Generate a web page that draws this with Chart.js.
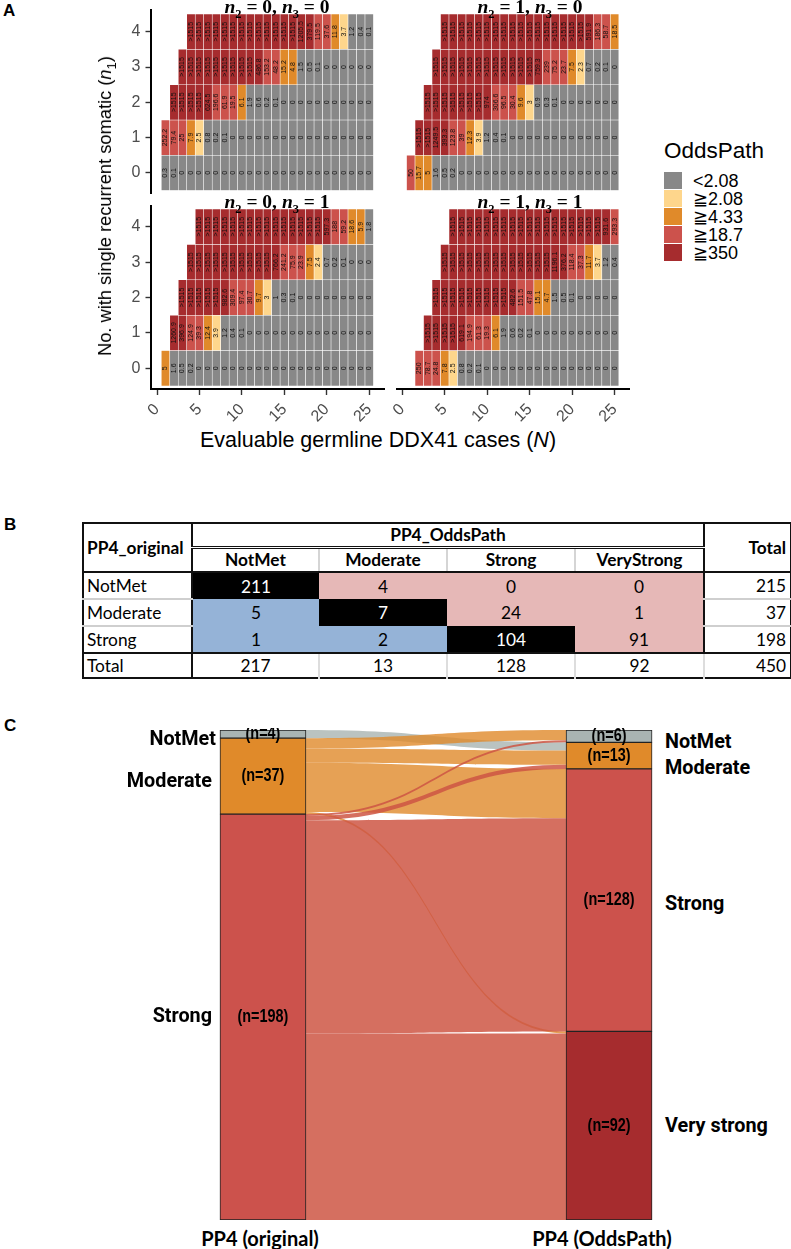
<!DOCTYPE html>
<html>
<head>
<meta charset="utf-8">
<title>PP4 OddsPath</title>
<script src="https://cdn.jsdelivr.net/npm/chart.js@4/dist/chart.umd.min.js"></script>
<style>
  html, body { margin: 0; padding: 0; background: #fff; }
  body { position: relative; width: 791px; height: 1249px; overflow: hidden; font-family: "Liberation Sans", sans-serif; color: #000; }
  canvas { position: absolute; }
  .abs { position: absolute; white-space: nowrap; }
  .letter { font-weight: 700; font-size: 17px; line-height: 17px; }
  .facet { font: 700 19.5px/19px "Liberation Serif", serif; transform: translateX(-50%); }
  .facet sub { font-size: 12.5px; line-height: 0; }
  .axis-title sub { font-size: 13px; line-height: 0; }
  .flow-label { font: 700 19.8px/22px Roboto, sans-serif; transform: translateY(-50%); }
  .pp4-label { font: 700 20px/22px Lato, sans-serif; transform: translateX(-50%); }
  #legendTitle { font-size: 22.5px; line-height: 26px; }
  .swatch { width: 18px; height: 17px; border-bottom: 1px solid #fff; }
  .legend-text { font-size: 18px; line-height: 18px; }
  #confusion { position: absolute; left: 82px; top: 522px; width: 708px; height: 155px; border-collapse: collapse; table-layout: fixed; font: 17.3px Lato, sans-serif; border: 2px solid #111; }
  #confusion td { padding: 0 3px; text-align: center; border-bottom: 2px solid #cfcfcf; overflow: hidden; white-space: nowrap; }
  #confusion td.head { font-weight: 700; border-right: 2px solid #d5d5d5; }
  #confusion td.stub { text-align: left; border-right: 2px solid #111; }
  #confusion td.total { text-align: right; border-left: 2px solid #111; padding-right: 4px; }
  #confusion td.shaded { border-bottom: none; }
  #confusion tr.under-head td { border-bottom: 2px solid #111; }
  #confusion tr.above-total td { border-bottom: 2px solid #111; }
  #confusion tr.last td { border-bottom: none; }
</style>
</head>
<body>

<div class="abs letter" style="left:3px;top:2px">A</div>
<div class="abs letter" style="left:4px;top:516px">B</div>
<div class="abs letter" style="left:4px;top:717px">C</div>

<!-- Panel A -->
<canvas id="heat00" width="280" height="192" style="left:110px;top:6px"></canvas>
<canvas id="heat10" width="242" height="192" style="left:392px;top:6px"></canvas>
<canvas id="heat01" width="280" height="225" style="left:110px;top:201px"></canvas>
<canvas id="heat11" width="242" height="225" style="left:392px;top:201px"></canvas>

<div class="abs facet" style="left:277px;top:-3px"><i>n</i><sub>2</sub> = 0, <i>n</i><sub>3</sub> = 0</div>
<div class="abs facet" style="left:530px;top:-3px"><i>n</i><sub>2</sub> = 1, <i>n</i><sub>3</sub> = 0</div>
<div class="abs facet" style="left:277px;top:192px"><i>n</i><sub>2</sub> = 0, <i>n</i><sub>3</sub> = 1</div>
<div class="abs facet" style="left:530px;top:192px"><i>n</i><sub>2</sub> = 1, <i>n</i><sub>3</sub> = 1</div>

<div class="abs axis-title" style="left:105px;top:206px;font-size:18.3px;transform:translate(-50%,-50%) rotate(-90deg)">No. with single recurrent somatic (<i>n</i><sub>1</sub>)</div>
<div class="abs axis-title" style="left:378px;top:440px;font-size:21.5px;transform:translate(-50%,-50%)">Evaluable germline DDX41 cases (<i>N</i>)</div>

<div id="legendTitle" class="abs" style="left:664px;top:138px">OddsPath</div>
<div id="legend"></div>

<!-- Panel B -->
<table id="confusion"></table>

<!-- Panel C -->
<canvas id="sankey" width="452" height="494" style="left:210px;top:728px"></canvas>
<div id="flowLabels"></div>
<div class="abs pp4-label" style="left:260px;top:1227px">PP4 (original)</div>
<div class="abs pp4-label" style="left:602px;top:1227px">PP4 (OddsPath)</div>

<script>
// ─────────────────────────────────────────────
//  Data: OddsPath grids, one row per n1 (0..4), one column per N (1..25)
// ─────────────────────────────────────────────
const X = ">1515";
const _ = null;

const grid00 = [
  [0.3,0.1,0,0,0,0,0,0,0,0,0,0,0,0,0,0,0,0,0,0,0,0,0,0,0],
  [252.2,79.4,25,7.9,2.5,0.8,0.2,0.1,0,0,0,0,0,0,0,0,0,0,0,0,0,0,0,0,0],
  [_,X,X,X,X,624.5,196.6,61.9,19.5,6.1,1.9,0.6,0.2,0.1,0,0,0,0,0,0,0,0,0,0,0],
  [_,_,X,X,X,X,X,X,X,X,X,486.8,153.2,48.2,15.2,4.8,1.5,0.5,0.1,0,0,0,0,0,0],
  [_,_,_,X,X,X,X,X,X,X,X,X,X,X,X,X,1205.5,379.5,119.5,37.6,11.8,3.7,1.2,0.4,0.1],
];

const grid10 = [
  [50,15.7,5,1.6,0.5,0.2,0,0,0,0,0,0,0,0,0,0,0,0,0,0,0,0,0,0,0],
  [_,X,X,1249.5,393.3,123.8,39,12.3,3.9,1.2,0.4,0.1,0,0,0,0,0,0,0,0,0,0,0,0,0],
  [_,_,X,X,X,X,X,X,X,974,306.6,96.5,30.4,9.6,3,0.9,0.3,0.1,0,0,0,0,0,0,0],
  [_,_,_,X,X,X,X,X,X,X,X,X,X,X,X,759.3,239,75.2,23.7,7.5,2.3,0.7,0.2,0.1,0],
  [_,_,_,_,X,X,X,X,X,X,X,X,X,X,X,X,X,X,X,X,X,591.9,186.3,58.7,18.5],
];

const grid01 = [
  [5,1.6,0.5,0.2,0,0,0,0,0,0,0,0,0,0,0,0,0,0,0,0,0,0,0,0,0],
  [_,1260.9,396.9,124.9,39.3,12.4,3.9,1.2,0.4,0.1,0,0,0,0,0,0,0,0,0,0,0,0,0,0,0],
  [_,_,X,X,X,X,X,982.6,309.4,97.4,30.7,9.7,3,1,0.3,0.1,0,0,0,0,0,0,0,0,0],
  [_,_,_,X,X,X,X,X,X,X,X,X,X,766.2,241.2,75.9,23.9,7.5,2.4,0.7,0.2,0.1,0,0,0],
  [_,_,_,_,X,X,X,X,X,X,X,X,X,X,X,X,X,X,X,597.3,188,59.2,18.6,5.9,1.8],
];

const grid11 = [
  [_,250,78.7,24.8,7.8,2.5,0.8,0.2,0.1,0,0,0,0,0,0,0,0,0,0,0,0,0,0,0,0],
  [_,_,X,X,X,X,619.1,194.9,61.3,19.3,6.1,1.9,0.6,0.2,0.1,0,0,0,0,0,0,0,0,0,0],
  [_,_,_,X,X,X,X,X,X,X,X,X,482.6,151.5,47.8,15.1,4.7,1.5,0.5,0.1,0,0,0,0,0],
  [_,_,_,_,X,X,X,X,X,X,X,X,X,X,X,X,X,1196.1,376.2,118.4,37.3,11.7,3.7,1.2,0.4],
  [_,_,_,_,_,X,X,X,X,X,X,X,X,X,X,X,X,X,X,X,X,X,X,931.6,293.3],
];

const xTickValues = [0, 5, 10, 15, 20, 25];
const yTickValues = [0, 1, 2, 3, 4];

const legendLabels = ["<2.08", "≧2.08", "≧4.33", "≧18.7", "≧350"];
const legendBreaks = [2.08, 4.33, 18.7, 350];

// ─────────────────────────────────────────────
//  Data: PP4 reclassification
// ─────────────────────────────────────────────
const originalClasses = ["NotMet", "Moderate", "Strong"];
const oddsClasses = ["NotMet", "Moderate", "Strong", "VeryStrong"];
const transitions = [
  [211, 4, 0, 0],
  [5, 7, 24, 1],
  [1, 2, 104, 91],
];
const rowTotals = [215, 37, 198];
const columnTotals = [217, 13, 128, 92];
const grandTotal = 450;

// the alluvial leaves out patients staying NotMet
const leftCounts = [4, 37, 198];
const rightCounts = [6, 13, 128, 92];

// ─────────────────────────────────────────────
//  Colours
// ─────────────────────────────────────────────
const C_GREY = "#888888";
const C_YELLOW = "#fed68c";
const C_ORANGE = "#e08a2a";
const C_RED = "#cc524c";
const C_DARK = "#a62c2e";
const C_NOTMET = "#a9b4b2";
const BIN_COLORS = [C_GREY, C_YELLOW, C_ORANGE, C_RED, C_DARK];

function oddsColor(value) {
  const v = value === X ? Infinity : value;
  let bin = 0;
  legendBreaks.forEach((b) => { if (v >= b) bin += 1; });
  return BIN_COLORS[bin];
}

// ─────────────────────────────────────────────
//  Panel A: floating bars, one per grid cell
// ─────────────────────────────────────────────
const cellLabels = {
  id: "cellLabels",
  afterDatasetsDraw(chart) {
    const { ctx } = chart;
    const meta = chart.getDatasetMeta(0);
    ctx.save();
    ctx.font = '7px "Liberation Sans", sans-serif';
    ctx.fillStyle = "#111";
    ctx.textAlign = "center";
    ctx.textBaseline = "middle";
    meta.data.forEach((bar, i) => {
      const { x, y } = bar.getCenterPoint();
      ctx.save();
      ctx.translate(x, y);
      ctx.rotate(-Math.PI / 2);
      ctx.fillText(String(chart.data.datasets[0].data[i].v), 0, 0);
      ctx.restore();
    });
    ctx.restore();
  },
};

function gridToCells(grid) {
  const cells = [];
  grid.forEach((row, n1) => {
    row.forEach((v, col) => {
      if (v !== null) cells.push({ x: col + 1, y: [n1 - 0.5, n1 + 0.5], v });
    });
  });
  return cells;
}

function drawHeat(id, grid, o) {
  new Chart(document.getElementById(id), {
    type: "bar",
    data: {
      datasets: [{
        data: gridToCells(grid),
        backgroundColor: (c) => oddsColor(c.raw.v),
        borderColor: "rgba(255,255,255,0.5)",
        borderWidth: 0.6,
        borderSkipped: false,
        categoryPercentage: 1,
        barPercentage: 1,
      }],
    },
    options: {
      responsive: false,
      animation: false,
      events: [],
      layout: { padding: o.padding },
      plugins: { legend: { display: false }, tooltip: { enabled: false }, title: { display: false } },
      scales: {
        x: {
          type: "linear",
          offset: false,
          display: o.showX,
          min: o.xMin,
          max: o.xMax,
          afterBuildTicks: (s) => { s.ticks = xTickValues.map((value) => ({ value })); },
          // keep the plot box fixed, rotated labels may hang out of it
          afterFit: (s) => { s.height = o.showX ? 37 : 0; s.paddingLeft = 0; s.paddingRight = 0; },
          border: { display: true, color: "#000", width: 2 },
          grid: { display: true, offset: false, drawOnChartArea: false, drawTicks: true, tickLength: 6, tickWidth: 1.4, tickColor: "#333" },
          ticks: { autoSkip: false, minRotation: 45, maxRotation: 45, padding: 5, color: "#4d4d4d", font: { family: "Liberation Sans", size: 16 } },
        },
        y: {
          type: "linear",
          display: o.showY,
          min: o.yMin,
          max: o.yMax,
          afterBuildTicks: (s) => { s.ticks = yTickValues.map((value) => ({ value })); },
          afterFit: (s) => { s.width = o.showY ? 40.5 : 0; s.paddingTop = 0; s.paddingBottom = 0; },
          border: { display: true, color: "#000", width: 2 },
          grid: { display: true, drawOnChartArea: false, drawTicks: true, tickLength: 5, tickWidth: 1.4, tickColor: "#333" },
          ticks: { padding: 5, color: "#4d4d4d", font: { family: "Liberation Sans", size: 16 } },
        },
      },
    },
    plugins: [cellLabels],
  });
}

const TOP_ROW = { yMin: -0.57, yMax: 4.615 };
const BOTTOM_ROW = { yMin: -0.585, yMax: 4.6 };
const LEFT_COL = { xMin: -0.77, xMax: 26.74 };
const RIGHT_COL = { xMin: -0.62, xMax: 26.7 };

drawHeat("heat00", grid00, { ...TOP_ROW, ...LEFT_COL, showX: false, showY: true, padding: { left: 0, right: 6, top: 4, bottom: 5 } });
drawHeat("heat10", grid10, { ...TOP_ROW, ...RIGHT_COL, showX: false, showY: false, padding: { left: 5, right: 5, top: 4, bottom: 5 } });
drawHeat("heat01", grid01, { ...BOTTOM_ROW, ...LEFT_COL, showX: true, showY: true, padding: { left: 0, right: 6, top: 4.5, bottom: 0 } });
drawHeat("heat11", grid11, { ...BOTTOM_ROW, ...RIGHT_COL, showX: true, showY: false, padding: { left: 5, right: 5, top: 4.5, bottom: 0 } });

// ── legend ──
const legendEl = document.getElementById("legend");
legendLabels.forEach((label, i) => {
  const top = 172 + i * 17.9;
  legendEl.insertAdjacentHTML("beforeend",
    `<div class="abs swatch" style="left:664px;top:${top}px;background:${BIN_COLORS[i]}"></div>` +
    `<div class="abs legend-text" style="left:693px;top:${top}px"></div>`);
  legendEl.lastElementChild.textContent = label;
});

// ─────────────────────────────────────────────
//  Panel B: table
// ─────────────────────────────────────────────
const COL_WIDTHS = [109, 127, 128, 128, 129, 87];
const ROW_HEIGHTS = [24, 25, 27, 27, 27, 25];

function buildTable() {
  const cols = COL_WIDTHS.map((w) => `<col style="width:${w}px">`).join("");
  let html = `<colgroup>${cols}</colgroup>`;
  html += `<tr style="height:${ROW_HEIGHTS[0]}px">` +
    `<td rowspan="2" class="head" style="border-right:2px solid #111;border-bottom:2px solid #111;text-align:left">PP4_original</td>` +
    `<td colspan="4" class="head" style="border-right:none;border-bottom:3px double #111">PP4_OddsPath</td>` +
    `<td rowspan="2" class="head" style="border-left:2px solid #111;border-right:none;border-bottom:2px solid #111;text-align:right;padding-right:4px">Total</td></tr>`;
  html += `<tr class="under-head" style="height:${ROW_HEIGHTS[1]}px">` +
    oddsClasses.map((c) => `<td class="head">${c}</td>`).join("") + `</tr>`;
  originalClasses.forEach((name, i) => {
    const rowClass = i === originalClasses.length - 1 ? "above-total" : "";
    html += `<tr class="${rowClass}" style="height:${ROW_HEIGHTS[2 + i]}px"><td class="stub">${name}</td>`;
    transitions[i].forEach((v, j) => {
      const style = i === j ? "background:#000;color:#fff"
        : j > i ? "background:#e6b8b7" : "background:#95b3d7";
      html += `<td class="shaded" style="${style}">${v}</td>`;
    });
    html += `<td class="total">${rowTotals[i]}</td></tr>`;
  });
  html += `<tr class="last" style="height:${ROW_HEIGHTS[5]}px"><td class="stub">Total</td>` +
    columnTotals.map((v) => `<td style="border-right:2px solid #ddd">${v}</td>`).join("") +
    `<td class="total">${grandTotal}</td></tr>`;
  document.getElementById("confusion").innerHTML = html;
}
buildTable();

// ─────────────────────────────────────────────
//  Panel C: alluvial. Axis bars are bars, ribbons hang off the same scales
// ─────────────────────────────────────────────
const LEFT_COLORS = [C_NOTMET, C_ORANGE, C_RED];
const RIGHT_COLORS = [C_NOTMET, C_ORANGE, C_RED, C_DARK];
const RIBBON_COLORS = ["rgba(169,180,178,0.8)", "rgba(224,138,42,0.8)", "rgba(206,86,68,0.85)"];

function stackCounts(counts, x, colors) {
  let running = 0;
  return counts.map((n, i) => {
    const point = { x, y: [running, running + n], n, color: colors[i] };
    running += n;
    return point;
  });
}

// every ribbon starts under the earlier ones on the left and right side
function buildRibbons() {
  const leftUsed = rowTotals.map(() => 0);
  const rightUsed = columnTotals.map(() => 0);
  const leftStart = stackCounts(leftCounts, 0, LEFT_COLORS).map((p) => p.y[0]);
  const rightStart = stackCounts(rightCounts, 1, RIGHT_COLORS).map((p) => p.y[0]);
  const ribbons = [];
  transitions.forEach((row, i) => {
    row.forEach((n, j) => {
      if (n === 0 || (i === 0 && j === 0)) return;
      ribbons.push({ from: i, to: j, n });
    });
  });
  ribbons.forEach((r) => {
    r.y0 = leftStart[r.from] + leftUsed[r.from];
    leftUsed[r.from] += r.n;
    r.y1 = rightStart[r.to] + rightUsed[r.to];
    rightUsed[r.to] += r.n;
  });
  return ribbons;
}

const ribbons = {
  id: "ribbons",
  beforeDatasetsDraw(chart) {
    const { ctx, scales } = chart;
    const half = chart.getDatasetMeta(0).data[0].width / 2;
    const xa = scales.x.getPixelForValue(0) + half;
    const xb = scales.x.getPixelForValue(1) - half;
    const k = (xb - xa) * 0.5;
    buildRibbons().forEach((r) => {
      const topA = scales.y.getPixelForValue(r.y0);
      const botA = scales.y.getPixelForValue(r.y0 + r.n);
      const topB = scales.y.getPixelForValue(r.y1);
      const botB = scales.y.getPixelForValue(r.y1 + r.n);
      ctx.beginPath();
      ctx.moveTo(xa, topA);
      ctx.bezierCurveTo(xa + k, topA, xb - k, topB, xb, topB);
      ctx.lineTo(xb, botB);
      ctx.bezierCurveTo(xb - k, botB, xa + k, botA, xa, botA);
      ctx.closePath();
      ctx.fillStyle = RIBBON_COLORS[r.from];
      ctx.fill();
    });
  },
  afterDatasetsDraw(chart) {
    const { ctx } = chart;
    const points = chart.data.datasets[0].data;
    ctx.save();
    ctx.font = '700 18.5px "Liberation Sans", sans-serif';
    ctx.fillStyle = "#000";
    ctx.textAlign = "center";
    ctx.textBaseline = "middle";
    chart.getDatasetMeta(0).data.forEach((bar, i) => {
      const { x, y } = bar.getCenterPoint();
      ctx.save();
      ctx.translate(x, y);
      ctx.scale(0.78, 1);
      ctx.fillText(`(n=${points[i].n})`, 0, 0);
      ctx.restore();
    });
    ctx.restore();
  },
};

new Chart(document.getElementById("sankey"), {
  type: "bar",
  data: {
    datasets: [{
      data: [...stackCounts(leftCounts, 0, LEFT_COLORS), ...stackCounts(rightCounts, 1, RIGHT_COLORS)],
      backgroundColor: (c) => c.raw.color,
      borderColor: "#222",
      borderWidth: 1,
      borderSkipped: false,
      barThickness: 86,
    }],
  },
  options: {
    responsive: false,
    animation: false,
    events: [],
    layout: { padding: { top: 2, bottom: 2, left: 0, right: 0 } },
    plugins: { legend: { display: false }, tooltip: { enabled: false } },
    scales: {
      x: { type: "linear", offset: false, display: false, min: -0.153, max: 1.153 },
      y: { type: "linear", display: false, reverse: true, min: 0, max: 239 },
    },
  },
  plugins: [ribbons],
});

// ── class names beside the bars ──
const leftFlowLabels = [["NotMet", 739], ["Moderate", 781], ["Strong", 1016]];
const rightFlowLabels = [["NotMet", 742], ["Moderate", 768], ["Strong", 904], ["Very strong", 1126]];
const flowEl = document.getElementById("flowLabels");
leftFlowLabels.forEach(([t, y]) => {
  const right = t === "NotMet" ? 575 : 579;
  flowEl.insertAdjacentHTML("beforeend", `<div class="abs flow-label" style="right:${right}px;top:${y}px">${t}</div>`);
});
rightFlowLabels.forEach(([t, y]) => {
  flowEl.insertAdjacentHTML("beforeend", `<div class="abs flow-label" style="left:665px;top:${y}px">${t}</div>`);
});
</script>
</body>
</html>
